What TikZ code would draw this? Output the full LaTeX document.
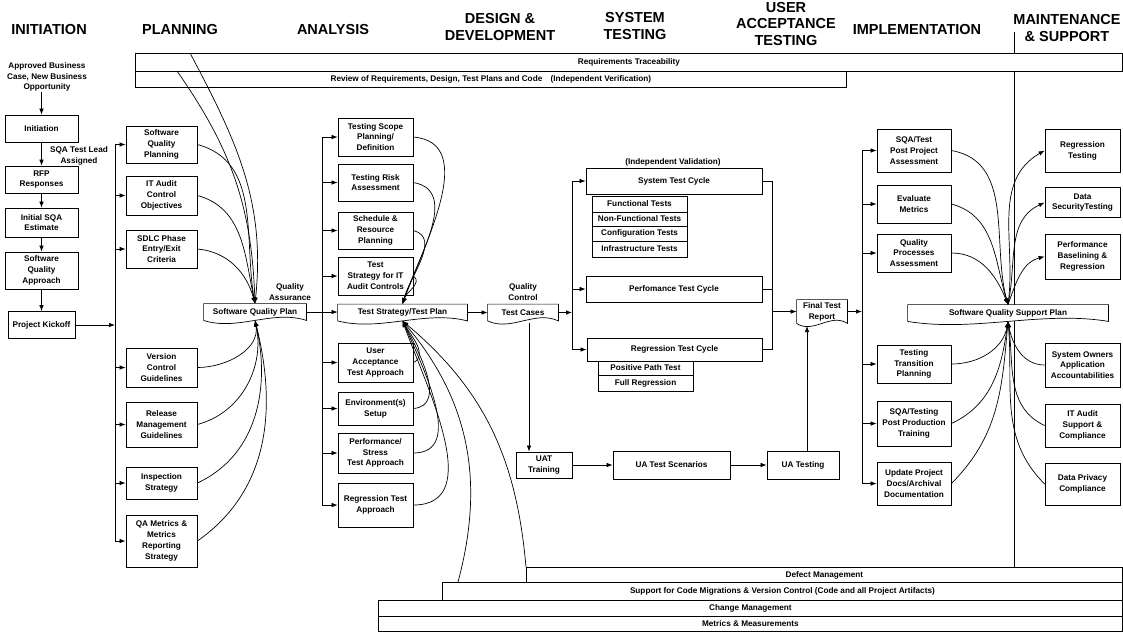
\documentclass[tikz,border=0pt]{standalone}
\usepackage{fontspec}
\setmainfont{Liberation Sans}
\usetikzlibrary{arrows.meta,calc}
\tikzset{
    stage-head/.style = {font=\fontsize{14.5}{16.5}\selectfont\bfseries, align=center, inner sep=0pt},
    task-box/.style = {draw, fill=white, line width=0.8pt, rectangle, align=center, inner sep=1pt, font=\fontsize{8.2}{10.8}\selectfont\bfseries},
    doc-box/.style = {task-box, draw=none},
    band-box/.style = {task-box, inner sep=0pt, anchor=north west},
    note-text/.style = {align=center, inner sep=0pt, font=\fontsize{8.2}{10.5}\selectfont\bfseries},
    link/.style = {line width=0.7pt},
    flow/.style = {link, -{Latex[length=6pt,width=4.5pt]}},
}
% outline with a wavy lower edge, drawn round a doc-box node
\newcommand{\docoutline}[1]{%
    \draw[link] (#1.south west) -- (#1.north west) -- (#1.north east) -- (#1.south east)
        .. controls ($(#1.south east)!0.33!(#1.south west)+(0,11)$) and ($(#1.south east)!0.67!(#1.south west)+(0,-11)$) .. (#1.south west);}

\begin{document}
\begin{tikzpicture}[x=1pt,y=1pt]
\useasboundingbox (0,0) rectangle (1123,-633);

% divider between implementation and maintenance
\coordinate (divider-top) at (1014,-32);
\coordinate (divider-bot) at (1014,-567);
\draw[link] (divider-top) -- (divider-bot);

% stage headings
\node[stage-head] (h-init) at (49,-30) {INITIATION};
\node[stage-head] (h-plan) at (180,-30) {PLANNING};
\node[stage-head] (h-anal) at (333,-30) {ANALYSIS};
\node[stage-head] (h-design) at (500,-27) {DESIGN \&\\DEVELOPMENT};
\node[stage-head] (h-sys) at (635,-26) {SYSTEM\\TESTING};
\node[stage-head] (h-uat) at (786,-24) {USER\\ACCEPTANCE\\TESTING};
\node[stage-head] (h-impl) at (917,-30) {IMPLEMENTATION};
\node[stage-head] (h-maint) at (1067,-28) {MAINTENANCE\\\& SUPPORT};

% bands across the top
\node[band-box, minimum width=987pt, minimum height=18pt] (req-trace) at (135,-53) {Requirements Traceability};
\node[band-box, minimum width=711pt, minimum height=16pt] (review) at (135,-71) {Review of Requirements, Design, Test Plans and Code\quad(Independent Verification)};

% initiation
\node[note-text] (approved) at (47,-77) {Approved Business\\Case, New Business\\Opportunity};
\node[task-box, minimum width=73pt, minimum height=27pt] (initiation) at (41.5,-128.5) {Initiation};
\node[task-box, minimum width=73pt, minimum height=27pt] (rfp) at (41.5,-179.5) {RFP\\Responses};
\node[task-box, minimum width=73pt, minimum height=29pt] (init-sqa) at (41.5,-222.5) {Initial SQA\\Estimate};
\node[task-box, minimum width=73pt, minimum height=37pt] (sq-approach) at (41.5,-270.5) {Software\\Quality\\Approach};
\node[task-box, minimum width=67pt, minimum height=27pt] (kickoff) at (41.5,-325) {Project Kickoff};
\node[note-text] (lead-note) at (79,-156) {SQA Test Lead\\Assigned};

% planning
\node[task-box, minimum width=71pt, minimum height=37pt] (sq-planning) at (161.5,-144.5) {Software\\Quality\\Planning};
\node[task-box, minimum width=71pt, minimum height=39pt] (it-audit) at (161.5,-195.5) {IT Audit\\Control\\Objectives};
\node[task-box, minimum width=71pt, minimum height=38pt] (sdlc-phase) at (161.5,-249) {SDLC Phase\\Entry/Exit\\Criteria};
\node[task-box, minimum width=71pt, minimum height=39pt] (vc-guide) at (161.5,-367.5) {Version\\Control\\Guidelines};
\node[task-box, minimum width=71pt, minimum height=45pt] (rel-mgmt) at (161.5,-424.5) {Release\\Management\\Guidelines};
\node[task-box, minimum width=71pt, minimum height=32pt] (inspect) at (161.5,-483) {Inspection\\Strategy};
\node[task-box, minimum width=71pt, minimum height=52pt] (qa-metrics) at (161.5,-541) {QA Metrics \&\\Metrics\\Reporting\\Strategy};
\node[doc-box, minimum width=102pt, minimum height=16pt] (sq-plan) at (255,-312) {Software Quality Plan};
\docoutline{sq-plan}
\node[note-text] (qa-note) at (290,-292) {Quality\\Assurance};

% analysis
\node[task-box, minimum width=75pt, minimum height=38pt] (test-scope) at (375.5,-137) {Testing Scope\\Planning/\\Definition};
\node[task-box, minimum width=75pt, minimum height=37pt] (test-risk) at (375.5,-182.5) {Testing Risk\\Assessment};
\node[task-box, minimum width=75pt, minimum height=37pt] (schedule) at (375.5,-230.5) {Schedule \&\\Resource\\Planning};
\node[task-box, minimum width=75pt, minimum height=38pt] (ts-audit) at (375.5,-276) {Test\\Strategy for IT\\Audit Controls};
\node[task-box, minimum width=75pt, minimum height=39pt] (uat-appr) at (375.5,-362.5) {User\\Acceptance\\Test Approach};
\node[task-box, minimum width=75pt, minimum height=33pt] (env-setup) at (375.5,-408.5) {Environment(s)\\Setup};
\node[task-box, minimum width=75pt, minimum height=40pt] (perf-appr) at (375.5,-453) {Performance/\\Stress\\Test Approach};
\node[task-box, minimum width=75pt, minimum height=44pt] (reg-appr) at (375.5,-505) {Regression Test\\Approach};
\node[doc-box, minimum width=129pt, minimum height=16pt] (ts-plan) at (402.5,-312.5) {Test Strategy/Test Plan};
\docoutline{ts-plan}

% design and development
\node[doc-box, minimum width=70pt, minimum height=16pt] (test-cases) at (523,-312.5) {Test Cases};
\docoutline{test-cases}
\node[note-text] (qc-note) at (523,-292) {Quality\\Control};

% system testing
\node[note-text] (iv-note) at (673,-162) {(Independent Validation)};
\node[task-box, minimum width=176pt, minimum height=26pt] (st-cycle) at (674,-181) {System Test Cycle};
\node[task-box, minimum width=95pt, minimum height=16pt] (functional) at (639.5,-204) {Functional Tests};
\node[task-box, minimum width=95pt, minimum height=14pt] (non-functional) at (639.5,-219) {Non-Functional Tests};
\node[task-box, minimum width=95pt, minimum height=15pt] (configuration) at (639.5,-233.5) {Configuration Tests};
\node[task-box, minimum width=95pt, minimum height=16pt] (infrastructure) at (639.5,-249) {Infrastructure Tests};
\node[task-box, minimum width=176pt, minimum height=26pt] (pf-cycle) at (674,-289) {Perfomance Test Cycle};
\node[task-box, minimum width=175pt, minimum height=23pt] (rg-cycle) at (674.5,-349.5) {Regression Test Cycle};
\node[task-box, minimum width=95pt, minimum height=14pt] (positive-path) at (645.5,-368) {Positive Path Test};
\node[task-box, minimum width=95pt, minimum height=16pt] (full-reg) at (645.5,-383) {Full Regression};
\node[doc-box, minimum width=50pt, minimum height=23pt] (final-report) at (822,-311.5) {Final Test\\Report};
\docoutline{final-report}

% user acceptance testing
\node[task-box, minimum width=56pt, minimum height=26pt] (uat-training) at (544,-465) {UAT\\Training};
\node[task-box, minimum width=117pt, minimum height=28pt] (ua-scenarios) at (671.5,-465) {UA Test Scenarios};
\node[task-box, minimum width=72pt, minimum height=28pt] (ua-testing) at (803,-465) {UA Testing};

% implementation
\node[task-box, minimum width=74pt, minimum height=43pt] (post-proj) at (914,-150.5) {SQA/Test\\Post Project\\Assessment};
\node[task-box, minimum width=74pt, minimum height=38pt] (eval-met) at (914,-204) {Evaluate\\Metrics};
\node[task-box, minimum width=74pt, minimum height=38pt] (q-proc) at (914,-253) {Quality\\Processes\\Assessment};
\node[task-box, minimum width=74pt, minimum height=38pt] (trans-plan) at (914,-364) {Testing\\Transition\\Planning};
\node[task-box, minimum width=74pt, minimum height=45pt] (post-prod) at (914,-423.5) {SQA/Testing\\Post Production\\Training};
\node[task-box, minimum width=74pt, minimum height=43pt] (up-docs) at (914,-483.5) {Update Project\\Docs/Archival\\Documentation};
\node[doc-box, minimum width=200pt, minimum height=16pt] (sup-plan) at (1008,-313) {Software Quality Support Plan};
\docoutline{sup-plan}

% maintenance and support
\node[task-box, minimum width=75pt, minimum height=43pt] (reg-test) at (1082.5,-150.5) {Regression\\Testing};
\node[task-box, minimum width=75pt, minimum height=30pt] (data-sec) at (1082.5,-202.5) {Data\\SecurityTesting};
\node[task-box, minimum width=75pt, minimum height=45pt] (perf-base) at (1082.5,-256.5) {Performance\\Baselining \&\\Regression};
\node[task-box, minimum width=75pt, minimum height=44pt] (sys-owners) at (1082.5,-365) {System Owners\\Application\\Accountabilities};
\node[task-box, minimum width=75pt, minimum height=43pt] (it-support) at (1082.5,-425.5) {IT Audit\\Support \&\\Compliance};
\node[task-box, minimum width=75pt, minimum height=42pt] (privacy) at (1082.5,-484) {Data Privacy\\Compliance};

% bands across the bottom
\node[band-box, minimum width=596pt, minimum height=15pt] (defect) at (526,-567) {Defect Management};
\node[band-box, minimum width=680pt, minimum height=18pt] (code-support) at (442,-582) {Support for Code Migrations \& Version Control (Code and all Project Artifacts)};
\node[band-box, minimum width=744pt, minimum height=16pt] (change) at (378,-600) {Change Management};
\node[band-box, minimum width=744pt, minimum height=15pt] (metrics) at (378,-616) {Metrics \& Measurements};

% initiation flow
\draw[flow] (approved.south -| initiation) -- (initiation.north);
\draw[flow] (initiation) -- (rfp);
\draw[flow] (rfp) -- (init-sqa);
\draw[flow] (init-sqa) -- (sq-approach);
\draw[flow] (sq-approach) -- (kickoff);

% planning bus
\coordinate (plan-bus) at (115,0);
\draw[link] (plan-bus |- sq-planning) -- (plan-bus |- qa-metrics);
\draw[flow] (kickoff.east) -- (kickoff.east -| plan-bus);
\foreach \n in {sq-planning,it-audit,sdlc-phase,vc-guide,rel-mgmt,inspect,qa-metrics}
    \draw[flow] (\n.west -| plan-bus) -- (\n.west);

% into the software quality plan
\coordinate (trace-drop) at (190,-53);
\coordinate (review-drop) at (177,-71);
\draw[flow] (trace-drop) to[out=-62,in=84] (sq-plan.north);
\draw[flow] (review-drop) to[out=-55,in=92] (sq-plan.north);
\draw[flow] (sq-planning.east) to[out=-15,in=100] (sq-plan.north);
\draw[flow] (it-audit.east) to[out=-15,in=102] (sq-plan.north);
\draw[flow] (sdlc-phase.east) to[out=-5,in=105] (sq-plan.north);
\draw[flow] (vc-guide.east) to[out=0,in=-80] (sq-plan.south);
\draw[flow] (rel-mgmt.east) to[out=15,in=-78] (sq-plan.south);
\draw[flow] (inspect.east) to[out=25,in=-77] (sq-plan.south);
\draw[flow] (qa-metrics.east) to[out=35,in=-76] (sq-plan.south);

% analysis bus
\coordinate (anal-bus) at (322,0);
\draw[link] (anal-bus |- test-scope) -- (anal-bus |- reg-appr);
\draw[flow] (sq-plan.east) -- (sq-plan.east -| ts-plan.west);
\foreach \n in {test-scope,test-risk,schedule,ts-audit,uat-appr,env-setup,perf-appr,reg-appr}
    \draw[flow] (\n.west -| anal-bus) -- (\n.west);

% into the test strategy
\coordinate (support-rise) at (458,-582);
\coordinate (defect-rise) at (526,-567);
\draw[flow] (test-scope.east) to[out=-5,in=70] (ts-plan.north);
\draw[flow] (test-risk.east) to[out=-10,in=72] (ts-plan.north);
\draw[flow] (schedule.east) to[out=-15,in=75] (ts-plan.north);
\draw[flow] (ts-audit.east) to[out=-35,in=75] (ts-plan.north);
\draw[flow] (uat-appr.east) to[out=25,in=-60] (ts-plan.south);
\draw[flow] (env-setup.east) to[out=5,in=-62] (ts-plan.south);
\draw[flow] (perf-appr.east) to[out=0,in=-66] (ts-plan.south);
\draw[flow] (reg-appr.east) to[out=0,in=-70] (ts-plan.south);
\draw[flow] (support-rise) to[out=75,in=-50] (ts-plan.south);
\draw[flow] (defect-rise) to[out=95,in=-40] (ts-plan.south);

% design to system testing
\draw[flow] (ts-plan.east) -- (ts-plan.east -| test-cases.west);
\coordinate (sys-bus) at (572,0);
\draw[link] (sys-bus |- st-cycle) -- (sys-bus |- rg-cycle);
\draw[flow] (test-cases.east) -- (test-cases.east -| sys-bus);
\foreach \n in {st-cycle,pf-cycle,rg-cycle}
    \draw[flow] (\n.west -| sys-bus) -- (\n.west);
\coordinate (sys-out) at (772,0);
\draw[link] (st-cycle.east) -- (st-cycle.east -| sys-out) -- (rg-cycle.east -| sys-out) -- (rg-cycle.east);
\draw[link] (pf-cycle.east) -- (pf-cycle.east -| sys-out);
\draw[flow] (final-report.west -| sys-out) -- (final-report.west);

% user acceptance flow
\coordinate (tc-drop) at (529,-323);
\coordinate (report-in) at (807,-326);
\draw[flow] (tc-drop) -- (tc-drop |- uat-training.north);
\draw[flow] (uat-training) -- (ua-scenarios);
\draw[flow] (ua-scenarios) -- (ua-testing);
\draw[flow] (ua-testing.north -| report-in) -- (report-in);

% implementation bus
\coordinate (impl-bus) at (862,0);
\draw[link] (impl-bus |- post-proj) -- (impl-bus |- up-docs);
\draw[flow] (final-report.east) -- (final-report.east -| impl-bus);
\foreach \n in {post-proj,eval-met,q-proc,trans-plan,post-prod,up-docs}
    \draw[flow] (\n.west -| impl-bus) -- (\n.west);

% support plan fan
\draw[flow] (post-proj.east) to[out=-10,in=105] (sup-plan.north);
\draw[flow] (eval-met.east) to[out=-15,in=107] (sup-plan.north);
\draw[flow] (q-proc.east) to[out=0,in=112] (sup-plan.north);
\draw[flow] (sup-plan.north) to[out=82,in=210] (reg-test.west);
\draw[flow] (sup-plan.north) to[out=78,in=205] (data-sec.west);
\draw[flow] (sup-plan.north) to[out=70,in=195] (perf-base.west);
\draw[flow] (trans-plan.east) to[out=0,in=-100] (sup-plan.south);
\draw[flow] (post-prod.east) to[out=25,in=-98] (sup-plan.south);
\draw[flow] (up-docs.east) to[out=45,in=-95] (sup-plan.south);
\draw[flow] (sys-owners.west) to[out=180,in=-80] (sup-plan.south);
\draw[flow] (it-support.west) to[out=155,in=-82] (sup-plan.south);
\draw[flow] (privacy.west) to[out=135,in=-85] (sup-plan.south);
\end{tikzpicture}
\end{document}
